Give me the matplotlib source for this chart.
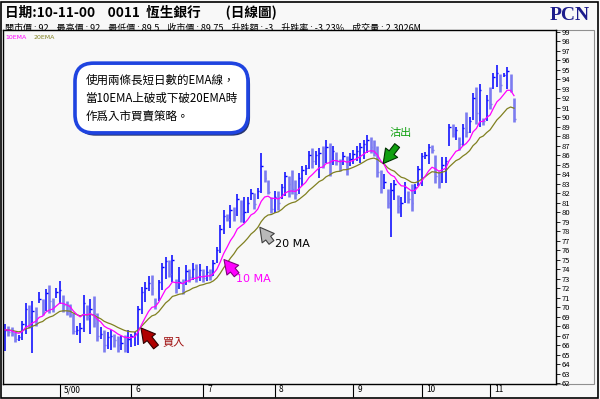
import matplotlib
matplotlib.use("Agg")
import matplotlib.pyplot as plt
import matplotlib.transforms as mtransforms
import matplotlib.patheffects as pe
from matplotlib.patches import Rectangle
import numpy as np
import pandas as pd

plt.rcParams['font.family'] = ['Noto Sans CJK TC', 'DejaVu Sans']

# daily bars, 0011 Hang Seng Bank, Apr - Nov 2000
closes = [67.6, 67.4, 67.2, 66.6, 66.8, 68.2, 69.8, 68.9, 69.6, 69.3,
          70.8, 69.6, 71.5, 70.6, 70.2, 71.6, 71.8, 70.2, 69.6, 69.2,
          67.5, 67.6, 67.8, 70.4, 69.0, 69.8, 68.3, 66.9, 67.2, 66.0,
          66.8, 67.0, 66.5, 66.0, 66.2, 66.0, 66.6, 66.9, 67.2, 69.8,
          71.6, 72.0, 72.5, 72.0, 70.4, 72.6, 74.2, 74.8, 73.5, 74.9,
          72.2, 72.6, 71.9, 73.8, 73.2, 74.0, 73.2, 73.9, 73.1, 73.7,
          73.3, 74.6, 76.0, 78.2, 79.6, 79.3, 80.2, 79.8, 81.4, 79.8,
          80.0, 81.0, 82.0, 80.8, 82.2, 84.8, 83.6, 82.1, 80.3, 81.6,
          81.0, 82.6, 83.8, 83.0, 82.4, 81.9, 83.6, 84.4, 84.6, 86.0,
          85.4, 86.0, 86.2, 85.0, 86.8, 85.6, 86.4, 85.4, 84.7, 85.9,
          84.6, 85.6, 86.1, 86.4, 86.8, 87.2, 87.6, 86.8, 86.3, 84.2,
          82.6, 83.2, 80.9, 82.3, 82.9, 80.6, 81.0, 82.6, 81.4, 81.0,
          82.6, 84.5, 85.9, 86.0, 86.8, 86.5, 83.8, 83.2, 85.0, 85.4,
          88.9, 88.2, 88.6, 87.2, 88.8, 88.4, 89.6, 92.0, 90.4, 92.8,
          89.6, 91.8, 91.4, 94.2, 94.6, 93.4, 94.4, 94.8, 92.75, 89.75]

highs = [68.2, 68.0, 67.9, 67.4, 67.1, 68.5, 70.4, 70.2, 70.6, 70.0,
         71.6, 70.8, 71.9, 72.3, 71.0, 72.0, 72.7, 71.3, 70.6, 70.3,
         69.4, 68.0, 68.3, 71.3, 70.2, 70.8, 71.2, 69.4, 67.9, 67.6,
         67.4, 67.6, 67.2, 67.0, 66.9, 67.1, 67.6, 67.2, 67.4, 70.1,
         72.1, 72.6, 73.3, 73.4, 70.9, 72.8, 74.6, 75.3, 75.0, 75.5,
         73.0, 74.2, 73.0, 74.4, 74.0, 74.6, 74.5, 74.5, 74.0, 74.3,
         74.0, 74.9, 76.3, 78.6, 80.2, 79.8, 80.7, 80.5, 81.9, 81.3,
         81.6, 81.6, 82.4, 82.0, 82.5, 86.2, 84.4, 83.4, 81.6, 82.2,
         82.2, 83.0, 84.2, 83.8, 84.4, 83.4, 84.1, 84.8, 85.0, 86.4,
         86.7, 86.4, 86.7, 87.0, 87.6, 87.3, 87.0, 86.3, 85.6, 86.3,
         85.9, 86.2, 86.5, 86.9, 87.3, 87.6, 88.1, 87.9, 87.6, 86.9,
         84.4, 84.0, 82.4, 83.1, 83.4, 81.8, 81.6, 83.2, 82.2, 82.9,
         82.9, 84.8, 86.2, 86.3, 87.2, 87.1, 86.0, 84.3, 85.8, 85.8,
         89.3, 89.3, 89.0, 87.9, 89.3, 90.5, 90.0, 92.5, 93.2, 93.5,
         89.9, 92.3, 93.2, 94.6, 95.5, 94.5, 94.6, 95.3, 94.5, 92.0]

lows = [65.4, 67.0, 66.9, 66.3, 66.4, 66.5, 67.2, 67.8, 65.2, 68.0,
        70.4, 69.2, 69.6, 69.4, 69.5, 70.9, 70.3, 69.5, 69.2, 68.9,
        67.2, 67.1, 66.2, 67.4, 68.6, 67.2, 67.9, 66.4, 66.6, 65.3,
        65.6, 65.5, 65.8, 65.3, 65.5, 65.3, 65.2, 65.8, 65.9, 66.0,
        69.3, 70.5, 71.7, 71.3, 69.8, 70.6, 71.8, 73.0, 73.2, 72.6,
        71.5, 71.9, 71.4, 72.3, 72.6, 72.8, 72.6, 72.7, 72.6, 72.7,
        72.8, 73.3, 74.6, 75.7, 77.7, 79.1, 78.3, 79.1, 79.6, 79.0,
        78.8, 79.9, 81.3, 80.3, 81.4, 82.0, 83.2, 81.9, 79.9, 79.9,
        80.2, 81.4, 81.7, 81.6, 81.9, 81.4, 81.9, 82.7, 83.9, 84.5,
        84.6, 85.0, 83.6, 84.6, 85.2, 83.8, 84.9, 84.9, 84.3, 84.9,
        83.9, 84.8, 85.1, 85.4, 85.2, 85.6, 86.2, 86.2, 85.9, 83.7,
        82.0, 82.4, 80.4, 77.4, 81.3, 79.9, 79.5, 80.9, 81.0, 80.1,
        81.9, 82.7, 82.7, 85.6, 85.1, 86.2, 83.1, 82.5, 83.1, 83.1,
        86.9, 87.9, 87.6, 86.5, 86.9, 87.9, 88.3, 89.7, 89.3, 89.0,
        89.2, 89.6, 90.8, 92.9, 93.2, 92.6, 94.2, 92.9, 92.6, 89.5]

month_pos = [16, 37, 58, 79, 102, 122, 142]
month_labels = ["5/00", "6", "7", "8", "9", "10", "11"]

df = pd.DataFrame({"high": highs, "low": lows, "close": closes})
df["ema10"] = df["close"].ewm(span=10, adjust=False).mean()
df["ema20"] = df["close"].ewm(span=20, adjust=False).mean()
x = np.arange(len(df))
up = df["close"].diff().fillna(0) >= 0

fig = plt.figure(figsize=(6, 3.99), dpi=100, facecolor="#f8f8f8")
ax = fig.add_axes([3 / 600, 15 / 399, 553 / 600, 354 / 399])
ax.set_facecolor("#f8f8f8")
ax.set_zorder(1)

# high-low bars with close tick
ax.vlines(x[up], df["low"][up], df["high"][up], color="#0000ff", lw=1.1)
ax.vlines(x[~up], df["low"][~up], df["high"][~up], color="#7c7cf0", lw=1.9)
ax.hlines(df["close"][up], x[up], x[up] + 0.45, color="#0000ff", lw=1)
ax.hlines(df["close"][~up], x[~up], x[~up] + 0.45, color="#7c7cf0", lw=1)

ax.plot(x, df["ema20"], color="#808020", lw=0.9)
ax.plot(x, df["ema10"], color="#ff00ff", lw=0.9)

ax.set_xlim(-0.6, 161.3)
ax.set_ylim(61.9, 99.16)
ax.yaxis.tick_right()
ax.set_yticks(range(62, 100))
ax.tick_params(axis="y", labelsize=5.5, length=3, pad=1, width=0.6)
ax.set_xticks(month_pos)
ax.set_xticklabels(month_labels)
ax.tick_params(axis="x", labelsize=6, length=9, pad=-8, width=0.8, direction="out")
offset = mtransforms.ScaledTranslation(3 / 72, 0, fig.dpi_scale_trans)
for lab in ax.get_xticklabels():
    lab.set_ha("left")
    lab.set_transform(lab.get_transform() + offset)
for sp in ax.spines.values():
    sp.set_linewidth(1)

# legend text
ax.text(0.004, 0.985, "10EMA", color="#ff00ff", fontsize=4.5, transform=ax.transAxes, va="top",
        family="DejaVu Sans")
ax.text(0.055, 0.985, "20EMA", color="#808020", fontsize=4.5, transform=ax.transAxes, va="top",
        family="DejaVu Sans")

# callout bubble
t = ax.text(45.8, 92.0, "使用兩條長短日數的EMA線，\n當10EMA上破或下破20EMA時\n作爲入市買賣策略。",
            fontsize=8.3, ha="center", va="center", multialignment="left", linespacing=1.5,
            color="black",
            bbox=dict(boxstyle="round,pad=0.9,rounding_size=1.6", fc="white", ec="#1f44e0", lw=2.6))
t.get_bbox_patch().set_path_effects([pe.withSimplePatchShadow(offset=(1.5, -2), shadow_rgbFace="#102060", alpha=0.9)])

# cursor-like arrows
def cursor(tip, tail, color, edge):
    ax.annotate("", xy=tip, xytext=tail,
                arrowprops=dict(arrowstyle="simple,head_length=0.9,head_width=1.0,tail_width=0.4",
                                mutation_scale=11, fc=color, ec=edge, lw=0.8,
                                shrinkA=0, shrinkB=0))

cursor((39.8, 67.8), (44.2, 65.8), "#b00000", "#300000")
ax.text(46.0, 66.3, "買入", color="#a01010", fontsize=8, va="center")
cursor((64.1, 75.0), (67.8, 73.4), "#ff00ff", "#800080")
ax.text(67.6, 72.9, "10 MA", color="#ff00ff", fontsize=8, va="center", family="DejaVu Sans")
cursor((74.6, 78.4), (78.0, 76.8), "#b8b8b8", "#404040")
ax.text(78.9, 76.6, "20 MA", color="black", fontsize=8, va="center", family="DejaVu Sans")
cursor((110.7, 85.1), (114.8, 87.0), "#10a010", "#003000")
ax.text(115.8, 88.3, "沽出", color="#10a010", fontsize=8, ha="center", va="center")

# header
fig.text(5 / 600, 1 - 12 / 399, "日期:10-11-00    0011  恆生銀行        (日線圖)",
         fontsize=9.8, fontweight="bold", va="center", color="black")
fig.text(5 / 600, 1 - 28 / 399,
         "開市價 : 92    最高價 : 92    最低價 : 89.5    收市價 : 89.75    升跌額 : -3    升跌率 : -3.23%    成交量 : 2.3026M",
         fontsize=6.5, va="center", color="black", zorder=0)
fig.text(570 / 600, 1 - 15 / 399, "PCN", fontsize=14, fontweight="bold", family="Liberation Serif",
         color="#1c1c8c", ha="center", va="center")

# frames
fig.add_artist(Rectangle((1 / 600, 1 / 399), 597 / 600, 396 / 399, transform=fig.transFigure,
                         fill=False, ec="black", lw=1.2))
fig.add_artist(Rectangle((556 / 600, 15 / 399), 38 / 600, 354 / 399, transform=fig.transFigure,
                         fill=False, ec="#909090", lw=0.8))

fig.savefig("out.png", dpi=100, facecolor=fig.get_facecolor())
